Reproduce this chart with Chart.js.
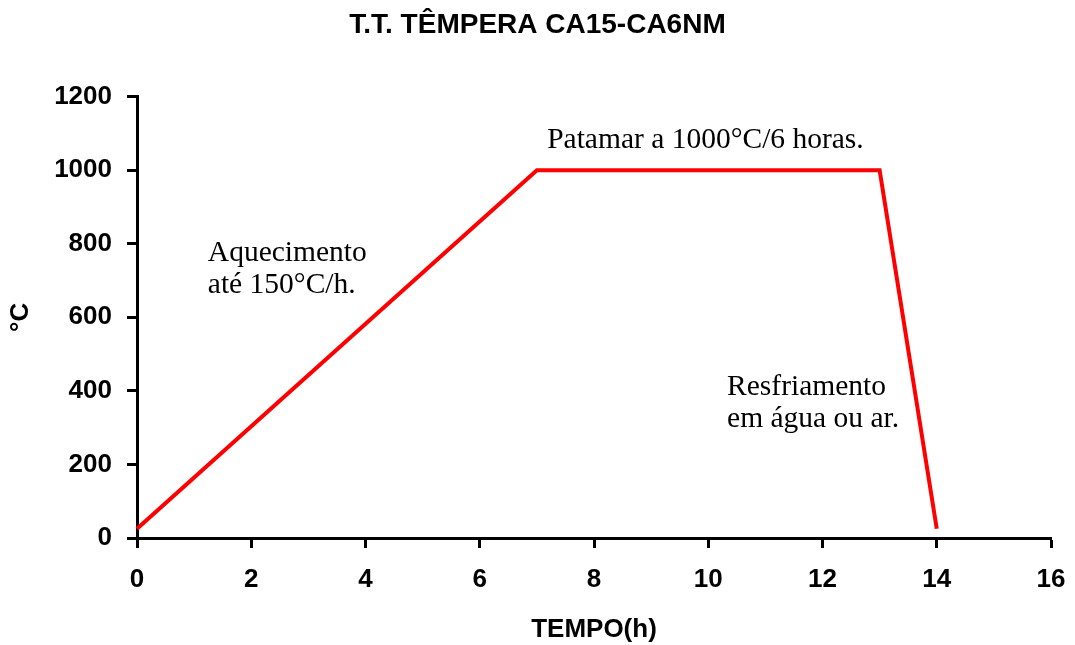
<!DOCTYPE html>
<html>
<head>
<meta charset="utf-8">
<title>T.T. TÊMPERA CA15-CA6NM</title>
<script src="https://cdn.jsdelivr.net/npm/chart.js@4.4.0/dist/chart.umd.min.js"></script>
<style>
  html, body { margin: 0; padding: 0; background: #fff; }
  #wrap { width: 1075px; height: 645px; }
</style>
</head>
<body>
<div id="wrap"><canvas id="cycleChart"></canvas></div>
<script>
// heat treatment cycle: time (h) vs temperature (°C)
const timeH = [0, 7, 13, 14];
const tempC = [25, 1000, 1000, 25];

const xTicks = [0, 2, 4, 6, 8, 10, 12, 14, 16];
const yTicks = [0, 200, 400, 600, 800, 1000, 1200];

// text notes placed in data units
const notes = [
    { x: 1.24, y: 754, lines: ['Aquecimento', 'até 150°C/h.'] },
    { x: 7.18, y: 1061, lines: ['Patamar a 1000°C/6 horas.'] },
    { x: 10.33, y: 389, lines: ['Resfriamento', 'em água ou ar.'] }
];

const sansBold = (size) => ({ family: 'Arial, "Liberation Sans", sans-serif', size: size, weight: 'bold' });

const notesPlugin = {
    id: 'notes',
    afterDatasetsDraw(chart) {
        const { ctx, scales } = chart;
        ctx.save();
        ctx.fillStyle = '#000';
        ctx.font = '29.5px "Times New Roman", "Liberation Serif", serif';
        ctx.textAlign = 'left';
        ctx.textBaseline = 'alphabetic';
        notes.forEach(n => {
            const px = scales.x.getPixelForValue(n.x);
            const py = scales.y.getPixelForValue(n.y);
            n.lines.forEach((line, i) => ctx.fillText(line, px, py + i * 32));
        });
        ctx.restore();
    }
};

const axisGrid = {
    display: true,
    drawOnChartArea: false,
    drawTicks: true,
    tickLength: 10,
    tickWidth: 3,
    tickColor: '#000'
};

new Chart(document.getElementById('cycleChart'), {
    type: 'line',
    data: {
        datasets: [{
            data: timeH.map((t, i) => ({ x: t, y: tempC[i] })),
            borderColor: '#ff0000',
            borderWidth: 4,
            pointRadius: 0,
            tension: 0,
            fill: false,
            clip: false
        }]
    },
    options: {
        responsive: true,
        maintainAspectRatio: false,
        animation: false,
        layout: { padding: 0 },
        plugins: {
            legend: { display: false },
            tooltip: { enabled: false },
            title: {
                display: true,
                text: 'T.T. TÊMPERA CA15-CA6NM',
                color: '#000',
                font: sansBold(28),
                padding: { top: 8, bottom: 55 }
            }
        },
        scales: {
            x: {
                type: 'linear',
                min: 0,
                max: 16,
                afterBuildTicks: (scale) => { scale.ticks = xTicks.map(v => ({ value: v })); },
                afterFit: (scale) => {
                    // fixed band below the plot, room on the right for the last label
                    scale.height = 107;
                    scale.paddingLeft = 0;
                    scale.paddingRight = 24;
                },
                ticks: { color: '#000', font: sansBold(26), padding: 16, maxRotation: 0, callback: (v) => String(v) },
                grid: axisGrid,
                border: { color: '#000', width: 3 },
                title: { display: true, text: 'TEMPO(h)', color: '#000', font: sansBold(26), padding: { top: 0, bottom: 0 } }
            },
            y: {
                min: 0,
                max: 1200,
                afterBuildTicks: (scale) => { scale.ticks = yTicks.map(v => ({ value: v })); },
                afterFit: (scale) => { scale.width = 137; },
                ticks: { color: '#000', font: sansBold(26), padding: 15, callback: (v) => String(v) },
                grid: axisGrid,
                border: { color: '#000', width: 3 },
                title: { display: true, text: '°C', color: '#000', font: sansBold(26), padding: { top: 5, bottom: 0 } }
            }
        }
    },
    plugins: [notesPlugin]
});
</script>
</body>
</html>
